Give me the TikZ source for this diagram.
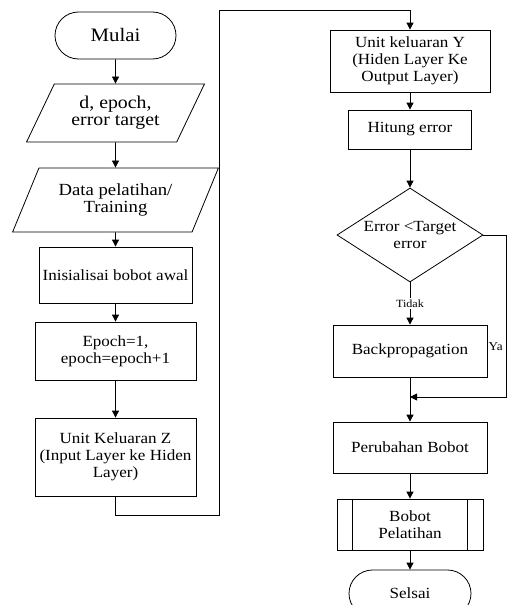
\documentclass[tikz,border=0pt]{standalone}
\usepackage{fontspec}
\setmainfont{Liberation Serif}[FakeStretch=1.1]
\usetikzlibrary{shapes.geometric,shapes.misc,arrows.meta}
\begin{document}
\begin{tikzpicture}[x=1pt,y=-1pt,
    every node/.style={font=\fontsize{15.5}{17}\selectfont, align=center, inner sep=1pt},
    terminal/.style={draw, rounded rectangle, minimum width=123pt, minimum height=47pt},
    io/.style={draw, trapezium, trapezium left angle=60, trapezium right angle=120,
      trapezium stretches=true},
    proc/.style={draw, rectangle},
    decide/.style={draw, diamond, aspect=1.55},
    line/.style={line width=0.8pt},
    arr/.style={line, -{Triangle[width=7pt,length=7pt]}},
    small/.style={font=\fontsize{11}{12}\selectfont}]
    \useasboundingbox (0,0) rectangle (509,605);
    \def\xl{115.5}
    \def\xr{410}
    % kolom kiri
    \node [terminal, line, font=\fontsize{19}{21}\selectfont] (Mulai) at (\xl, 35.5) {Mulai};
    \node [io, line, minimum width=178pt, minimum height=58pt, font=\fontsize{18}{17}\selectfont] (Input) at (\xl, 113) {d, epoch,\\ error target};
    \node [io, line, minimum width=206pt, minimum height=64pt, font=\fontsize{17}{17}\selectfont] (Data) at (\xl, 200) {Data pelatihan/\\ Training};
    \node [proc, line, minimum width=153pt, minimum height=56pt] (Init) at (\xl, 275) {Inisialisai bobot awal};
    \node [proc, line, minimum width=161pt, minimum height=58pt] (Epoch) at (\xl, 351) {Epoch=1,\\ epoch=epoch+1};
    \node [proc, line, minimum width=161pt, minimum height=78pt] (UnitZ) at (\xl, 457) {Unit Keluaran Z\\ (Input Layer ke Hiden\\ Layer)};
    % kolom kanan
    \node [proc, line, minimum width=160pt, minimum height=62pt] (UnitY) at (\xr, 61) {Unit keluaran Y\\ (Hiden Layer Ke\\ Output Layer)};
    \node [proc, line, minimum width=123pt, minimum height=39pt] (Hitung) at (\xr, 129.5) {Hitung error};
    \node [decide, line, minimum width=146pt, minimum height=94pt, inner sep=0pt] (Cek) at (\xr, 235) {Error {\textless}Target\\ error};
    \node [proc, line, minimum width=154pt, minimum height=52pt] (Backprop) at (\xr, 351) {Backpropagation};
    \node [proc, line, minimum width=154pt, minimum height=51pt] (Ubah) at (\xr, 447.5) {Perubahan Bobot};
    \node [proc, line, minimum width=146pt, minimum height=51pt] (Bobot) at (\xr, 524.5) {Bobot\\ Pelatihan};
    \node [terminal, line, minimum width=124pt] (Selsai) at (\xr, 593.5) {Selsai};
    \draw [line] ([xshift=16pt]Bobot.north west) -- ([xshift=16pt]Bobot.south west);
    \draw [line] ([xshift=-16pt]Bobot.north east) -- ([xshift=-16pt]Bobot.south east);
    \coordinate (J) at (\xr, 397);
    \coordinate (Z1) at (\xl, 515);
    \coordinate (Z2) at (219, 515);
    \coordinate (Z3) at (219, 10);
    \coordinate (Z4) at (\xr, 10);
    \coordinate (Y1) at (506, 235);
    \coordinate (Y2) at (506, 397);
    % panah
    \path (Mulai) edge [arr] (Input);
    \path (Input) edge [arr] (Data);
    \path (Data) edge [arr] (Init);
    \path (Init) edge [arr] (Epoch);
    \path (Epoch) edge [arr] (UnitZ);
    \draw [arr] (UnitZ.south) -- (Z1) -- (Z2) -- (Z3) -- (Z4) -- (UnitY.north);
    \path (UnitY) edge [arr] (Hitung);
    \path (Hitung) edge [arr] (Cek);
    \draw [arr] (Cek.south) -- (Backprop.north)
      node [pos=0.5, fill=white, small, inner sep=1.5pt] {Tidak};
    \draw [line] (Backprop.south) -- (J);
    \draw [arr] (Cek.east) -- (Y1) -- (Y2) -- (J);
    \node [anchor=east, font=\fontsize{12}{13}\selectfont] (Ya) at (504, 347) {Ya};
    \path (J) edge [arr] (Ubah);
    \path (Ubah) edge [arr] (Bobot);
    \path (Bobot) edge [arr] (Selsai);
\end{tikzpicture}
\end{document}
